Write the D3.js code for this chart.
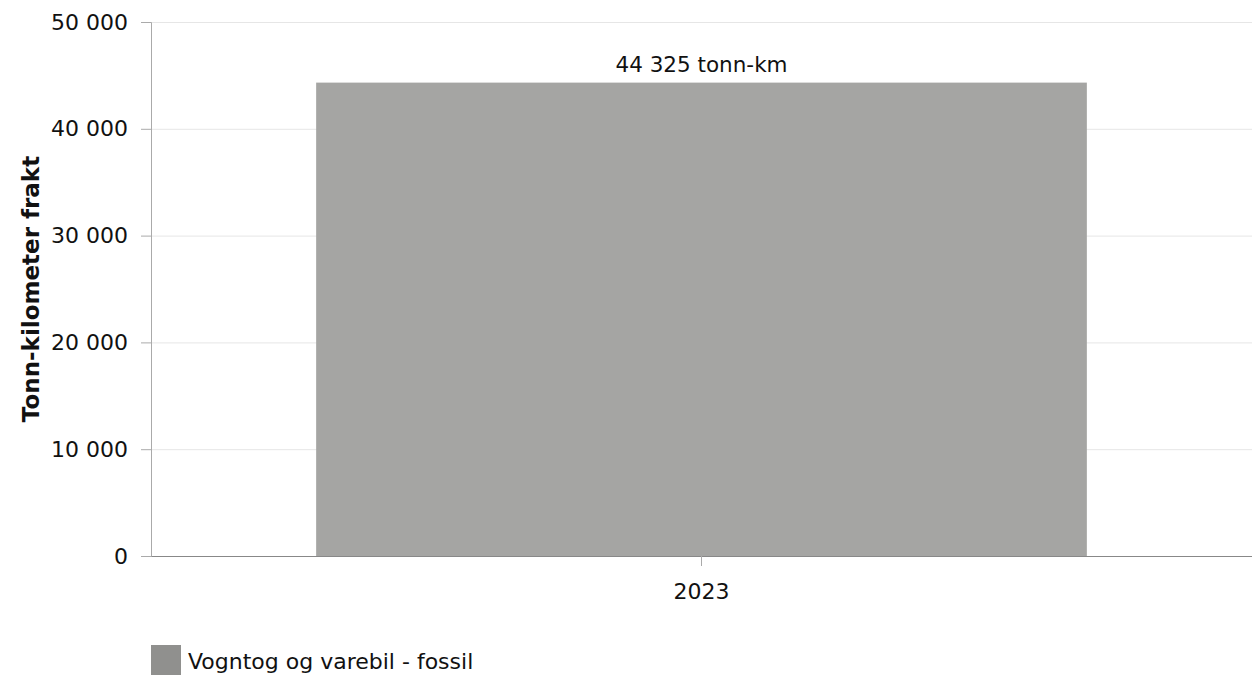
<!DOCTYPE html>
<html>
<head>
<meta charset="utf-8">
<script src="https://cdn.jsdelivr.net/npm/d3@7"></script>
<style>
  body { margin: 0; background: #fff; }
  svg { display: block; font-family: "DejaVu Sans", Verdana, sans-serif; }
</style>
</head>
<body>
<svg width="1252" height="675"></svg>
<script>
// Data
const categories = ["2023"];
const values = [44325];
const seriesName = "Vogntog og varebil - fossil";
const yTicks = [0, 10000, 20000, 30000, 40000, 50000];

const margin = { top: 22, right: 0, bottom: 119, left: 151 },
	width = 1252 - margin.left - margin.right,
	height = 675 - margin.top - margin.bottom;

const fmt = (v) => d3.format(",")(v).replace(/,/g, " ");

const svg = d3.select("svg");
const g = svg.append("g").attr("transform", `translate(${margin.left},${margin.top})`);

const x = d3.scaleBand().domain(categories).range([0, width]).paddingInner(0.3).paddingOuter(0.15);
const y = d3.scaleLinear().domain([0, 50000]).range([height, 0]);

// Gridlines
g.selectAll(".grid")
	.data(yTicks)
	.join("line")
	.attr("x1", 0)
	.attr("x2", width)
	.attr("y1", (d) => y(d) + 0.5)
	.attr("y2", (d) => y(d) + 0.5)
	.attr("stroke", "#e6e6e6");

// Y axis
const yAxis = g.append("g")
	.call(d3.axisLeft(y).tickValues(yTicks).tickSize(10).tickPadding(13).tickFormat(fmt));
yAxis.select(".domain").attr("stroke", "#aaa");
yAxis.selectAll(".tick line").attr("stroke", "#aaa");
yAxis.selectAll("text").attr("font-size", 22).attr("fill", "#111").attr("font-family", "DejaVu Sans, sans-serif");

// Bars
g.selectAll(".bar")
	.data(values)
	.join("rect")
	.attr("x", (d, i) => x(categories[i]))
	.attr("width", x.bandwidth())
	.attr("y", (d) => y(d))
	.attr("height", (d) => height - y(d))
	.attr("fill", "#a5a5a3");

// Value labels
g.selectAll(".label")
	.data(values)
	.join("text")
	.attr("x", (d, i) => x(categories[i]) + x.bandwidth() / 2)
	.attr("y", (d) => y(d) - 11)
	.attr("text-anchor", "middle")
	.attr("font-size", 21.5)
	.attr("fill", "#111")
	.text((d) => fmt(d) + " tonn-km");

// X axis
const xAxis = g.append("g")
	.attr("transform", `translate(0,${height})`)
	.call(d3.axisBottom(x).tickSize(10).tickPadding(17).tickSizeOuter(0));
xAxis.select(".domain").attr("stroke", "#888");
xAxis.selectAll(".tick line").attr("stroke", "#aaa");
xAxis.selectAll("text").attr("font-size", 22).attr("fill", "#111").attr("font-family", "DejaVu Sans, sans-serif");

// Y axis title
svg.append("text")
	.attr("transform", `translate(39,${margin.top + height / 2}) rotate(-90)`)
	.attr("text-anchor", "middle")
	.attr("font-size", 23)
	.attr("font-weight", "bold")
	.attr("fill", "#111")
	.text("Tonn-kilometer frakt");

// Legend
const legend = svg.append("g").attr("transform", "translate(151,645)");
legend.append("rect").attr("width", 30).attr("height", 30).attr("fill", "#90908e");
legend.append("text")
	.attr("x", 37)
	.attr("y", 24)
	.attr("font-size", 22)
	.attr("fill", "#111")
	.text(seriesName);
</script>
</body>
</html>
